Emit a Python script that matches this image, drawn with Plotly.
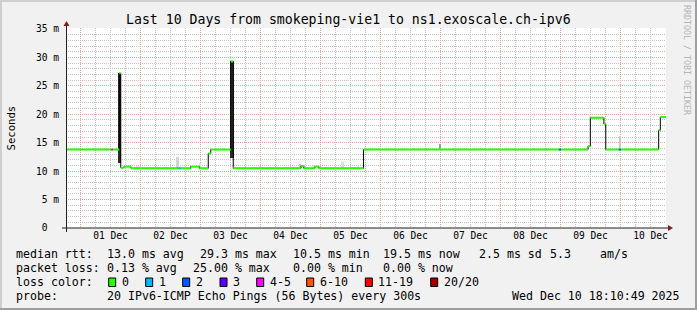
import pandas as pd
import plotly.graph_objects as go

# ---------------- data ----------------
title_text = "Last 10 Days from smokeping-vie1 to ns1.exoscale.ch-ipv6"
x_start = "2025-11-30 18:10:49"
x_end = "2025-12-10 18:10:49"

# median rtt step series (value holds until next time), ms
step_times = [
    "2025-11-30 18:10:49", "2025-12-01 12:10", "2025-12-01 13:00", "2025-12-01 15:30",
    "2025-12-01 16:05", "2025-12-01 17:20", "2025-12-01 20:10", "2025-12-02 15:20",
    "2025-12-02 16:10", "2025-12-02 20:05", "2025-12-02 23:30", "2025-12-03 03:05",
    "2025-12-03 04:05", "2025-12-03 12:05", "2025-12-03 13:05", "2025-12-04 16:10",
    "2025-12-04 17:20", "2025-12-04 21:45", "2025-12-04 23:20", "2025-12-05 17:10",
    "2025-12-08 23:20", "2025-12-09 00:10", "2025-12-09 11:00", "2025-12-09 11:55",
    "2025-12-09 17:20", "2025-12-09 18:05", "2025-12-09 23:20", "2025-12-10 00:05",
    "2025-12-10 15:15", "2025-12-10 15:55", "2025-12-10 18:10:49",
]
step_median_ms = [
    13.8, 13.8, 13.8, 27.2, 10.6, 10.8, 10.5, 10.5, 10.5, 10.8, 10.5, 13.1, 13.8, 29.3,
    10.5, 10.9, 10.5, 10.8, 10.5, 13.8, 13.8, 13.8, 14.4, 19.4, 18.3, 13.8, 13.8, 13.8,
    17.2, 19.5, 19.5,
]
# loss class index into loss_labels
step_loss_class = [
    0, 4, 0, 0, 0, 0, 0, 1, 0, 0, 0, 0, 0, 0, 0, 0, 0, 0, 0, 0, 2, 0, 0, 0, 0, 0, 2, 0,
    0, 0, 0,
]

# smoke (ping spread) blocks
smoke_start = ["2025-12-01 15:00", "2025-12-03 11:55", "2025-12-01 22:10", "2025-12-02 14:10",
               "2025-12-02 23:20", "2025-12-04 15:20", "2025-12-05 08:10", "2025-12-05 14:30",
               "2025-12-06 23:20", "2025-12-09 23:20"]
smoke_end = ["2025-12-01 16:10", "2025-12-03 13:15", "2025-12-01 23:20", "2025-12-02 15:20",
             "2025-12-03 00:10", "2025-12-04 16:10", "2025-12-05 09:20", "2025-12-05 15:20",
             "2025-12-07 00:10", "2025-12-10 00:10"]
smoke_low_ms = [11.4, 12.4, 10.5, 10.5, 10.5, 10.5, 10.5, 10.5, 13.8, 13.8]
smoke_high_ms = [27.2, 29.4, 10.9, 12.5, 11.4, 11.3, 11.6, 10.9, 14.8, 16.2]
smoke_density = [0.97, 0.97, 0.15, 0.2, 0.15, 0.25, 0.15, 0.1, 0.45, 0.25]

loss_labels = ["0", "1", "2", "3", "4-5", "6-10", "11-19", "20/20"]
loss_colors = ["#26ff00", "#00b8ff", "#0059ff", "#5e00ff", "#ff00ff", "#ff5500", "#ff0000", "#a10000"]

y_tick_vals = [0, 5, 10, 15, 20, 25, 30, 35]
y_tick_text = ["0\u00a0\u00a0", "5 m", "10 m", "15 m", "20 m", "25 m", "30 m", "35 m"]

row1_label = "median rtt:"
row1_items = ["13.0 ms avg", "29.3 ms max", "10.5 ms min", "19.5 ms now", "2.5 ms sd", "5.3", "am/s"]
row2_label = "packet loss:"
row2_items = ["0.13 % avg", "25.00 % max", "0.00 % min", "0.00 % now"]
row3_label = "loss color:"
row4_label = "probe:"
row4_text = "20 IPv6-ICMP Echo Pings (56 Bytes) every 300s"
stamp_text = "Wed Dec 10 18:10:49 2025"
watermark = "RRDTOOL / TOBI OETIKER"
y_title = "Seconds"

# ---------------- layout geometry (pixels) ----------------
WIDTH, HEIGHT = 697, 310
L, T, R, B = 66, 28, 666, 228
PW, PH = R - L, B - T
MONO = "DejaVu Sans Mono"


def px(X):
    return (X - L) / PW


def py(Y):
    return (B - Y) / PH


fig = go.Figure()

# smoke
s0 = pd.to_datetime(smoke_start, format="mixed")
s1 = pd.to_datetime(smoke_end, format="mixed")
mid = s0 + (s1 - s0) / 2
wid = [(b - a).total_seconds() * 1000 for a, b in zip(s0, s1)]
shade = [int(round(255 - d * 220)) for d in smoke_density]
fig.add_trace(go.Bar(
    x=list(mid), y=[h - l for l, h in zip(smoke_low_ms, smoke_high_ms)], base=smoke_low_ms,
    width=wid, marker=dict(color=[f"rgb({g},{g},{g})" for g in shade], line=dict(width=0)),
    hoverinfo="skip", showlegend=False,
))

# median black step line
times = list(pd.to_datetime(step_times, format="mixed"))
fig.add_trace(go.Scatter(
    x=times, y=step_median_ms, mode="lines", line=dict(color="#000000", width=1, shape="hv"),
    hoverinfo="skip", showlegend=False,
))

# loss-coloured median segments
for ci, col in enumerate(loss_colors):
    xs, ys = [], []
    for i in range(len(step_times) - 1):
        if step_loss_class[i] == ci:
            xs += [times[i], times[i + 1], None]
            ys += [step_median_ms[i], step_median_ms[i], None]
    if xs:
        fig.add_trace(go.Scatter(x=xs, y=ys, mode="lines", line=dict(color=col, width=2),
                                 hoverinfo="skip", showlegend=False))

MGRID = "#eea0a0"
GRID = "#c4c4c4"
fig.update_xaxes(
    type="date", range=[x_start, x_end], tick0="2025-12-01 00:00", dtick=86400000,
    ticklabelmode="period", tickformat="%d %b", showgrid=True, gridcolor=MGRID,
    griddash="1px,1px", gridwidth=1, showline=False, zeroline=False, ticks="",
    tickfont=dict(family=MONO, size=9.6, color="#000000"),
    minor=dict(dtick=21600000, tick0="2025-12-01 00:00", showgrid=True, gridcolor=GRID,
               griddash="1px,1px", gridwidth=1),
)
fig.update_yaxes(
    range=[0, 35 * PH / (PH - 1)], tickvals=y_tick_vals, ticktext=y_tick_text, showgrid=True,
    gridcolor=MGRID, griddash="1px,1px", gridwidth=1, zeroline=False, showline=False, ticks="",
    ticklabelstandoff=6,
    tickfont=dict(family=MONO, size=9.6, color="#000000"),
    minor=dict(dtick=1, showgrid=True, gridcolor=GRID, griddash="1px,1px", gridwidth=1),
)

shapes = []
# axis lines
shapes.append(dict(type="line", xref="paper", yref="paper", x0=px(62), x1=px(669),
                   y0=py(228), y1=py(228), line=dict(color="#1f1f1f", width=1)))
shapes.append(dict(type="line", xref="paper", yref="paper", x0=px(66.5), x1=px(66.5),
                   y0=py(232), y1=py(24), line=dict(color="#1f1f1f", width=1)))
# arrows
shapes.append(dict(type="path", xref="paper", yref="paper",
                   path=f"M {px(668)} {py(225)} L {px(673)} {py(228)} L {px(668)} {py(231)} Z",
                   fillcolor="#801f1f", line=dict(width=0)))
shapes.append(dict(type="path", xref="paper", yref="paper",
                   path=f"M {px(63.5)} {py(26)} L {px(66.5)} {py(21)} L {px(69.5)} {py(26)} Z",
                   fillcolor="#801f1f", line=dict(width=0)))
# outer 3D frame
shapes.append(dict(type="rect", xref="paper", yref="paper", x0=px(0), x1=px(697), y0=py(0), y1=py(2),
                   fillcolor="#cfcfcf", line=dict(width=0)))
shapes.append(dict(type="rect", xref="paper", yref="paper", x0=px(0), x1=px(2), y0=py(0), y1=py(310),
                   fillcolor="#cfcfcf", line=dict(width=0)))
shapes.append(dict(type="rect", xref="paper", yref="paper", x0=px(695), x1=px(697), y0=py(0), y1=py(310),
                   fillcolor="#9e9e9e", line=dict(width=0)))
shapes.append(dict(type="rect", xref="paper", yref="paper", x0=px(0), x1=px(697), y0=py(308), y1=py(310),
                   fillcolor="#9e9e9e", line=dict(width=0)))

annotations = []


def text(t, X, Y, size=11.6, anchor="left", color="#000000", angle=0):
    annotations.append(dict(
        text=t.replace(" ", "\u00a0"), x=px(X), y=py(Y), xref="paper", yref="paper",
        xanchor=anchor, yanchor="middle", showarrow=False, textangle=angle,
        font=dict(family=MONO, size=size, color=color), borderpad=0, borderwidth=0,
    ))


text(title_text, 348, 19, size=13.2, anchor="center")
text(y_title, 10.5, 128, size=10.6, anchor="center", angle=-90)
text(watermark, 687, 60, size=8.3, anchor="center", color="#b4b4b4", angle=90)

row_y = [254.3, 268.3, 282.3, 296.0]
text(row1_label, 16, row_y[0])
for t, X in zip(row1_items, [106.5, 200, 292.5, 382.5, 478.5, 550, 599.5]):
    text(t, X, row_y[0])
text(row2_label, 16, row_y[1])
for t, X in zip(row2_items, [106.5, 192.5, 293, 382.5]):
    text(t, X, row_y[1])
text(row3_label, 16, row_y[2])
box_left = [108.7, 145.7, 182.7, 220, 256.7, 306.7, 365.3, 430.7]
for lab, col, X in zip(loss_labels, loss_colors, box_left):
    shapes.append(dict(type="rect", xref="paper", yref="paper", x0=px(X), x1=px(X + 7),
                       y0=py(278), y1=py(286.5), fillcolor=col,
                       line=dict(color="#000000", width=1)))
    text(lab, X + 13, row_y[2])
text(row4_label, 16, row_y[3])
text(row4_text, 106.5, row_y[3])
text(stamp_text, 680, row_y[3], anchor="right")

fig.update_layout(
    width=WIDTH, height=HEIGHT, margin=dict(l=L, r=WIDTH - R, t=T, b=HEIGHT - B),
    paper_bgcolor="#f1f1f1", plot_bgcolor="#ffffff", showlegend=False, barmode="overlay",
    shapes=shapes, annotations=annotations, bargap=0,
)

fig.write_html("out.html", config={"displayModeBar": False})
